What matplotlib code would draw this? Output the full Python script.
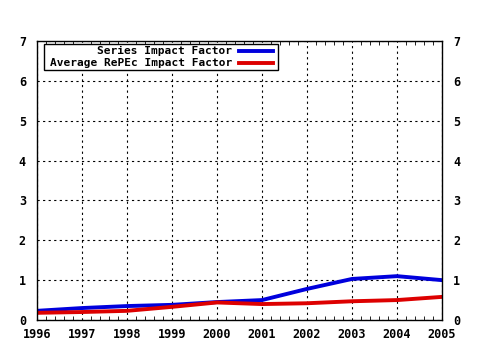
import matplotlib.pyplot as plt
from matplotlib.lines import Line2D
from matplotlib.patches import Rectangle
from matplotlib.ticker import AutoMinorLocator

years = [1996, 1997, 1998, 1999, 2000, 2001, 2002, 2003, 2004, 2005]
series_if = [0.23, 0.30, 0.35, 0.38, 0.45, 0.50, 0.78, 1.03, 1.10, 1.00]
repec_if = [0.18, 0.20, 0.23, 0.33, 0.44, 0.40, 0.42, 0.47, 0.50, 0.58]
labels = ["Series Impact Factor", "Average RePEc Impact Factor"]
colors = ["#0000dd", "#dd0000"]

plt.rcParams['font.family'] = ['DejaVu Sans Mono']
plt.rcParams['font.weight'] = 'bold'

fig = plt.figure(figsize=(4.8, 3.5), dpi=100)
ax = fig.add_axes([37 / 480, 1 - 320 / 350, 405 / 480, 279 / 350])

ax.plot(years, series_if, color=colors[0], lw=2.8)
ax.plot(years, repec_if, color=colors[1], lw=2.8)

ax.set_xlim(1996, 2005)
ax.set_ylim(0, 7)
ax.set_xticks(years)
ax.set_yticks(range(0, 8))
ax.xaxis.set_minor_locator(AutoMinorLocator(5))
ax.grid(True, which='major', color='black', linestyle=(0, (2, 3)), lw=0.8)

ax.tick_params(axis='x', which='both', direction='in', top=True, bottom=True,
               labelsize=8.5, pad=6)
ax.tick_params(axis='x', which='major', length=0)
ax.tick_params(axis='x', which='minor', length=3)
ax.tick_params(axis='y', which='both', length=0, labelsize=8.5, pad=8,
               right=True, labelright=True)
for s in ax.spines.values():
    s.set_linewidth(1.0)

# legend drawn by hand so the labels sit right-aligned, left of the lines
ax.add_patch(Rectangle((0.0173, 0.896), 0.578, 0.093, transform=ax.transAxes,
                       facecolor='white', edgecolor='black', lw=1.0, zorder=5))
rows = [0.963, 0.920]
for lab, col, y in zip(labels, colors, rows):
    ax.text(0.481, y, lab, transform=ax.transAxes, ha='right', va='center',
            fontsize=8, zorder=6)
    ax.add_line(Line2D([0.499, 0.583], [y, y], transform=ax.transAxes,
                       color=col, lw=2.8, zorder=6))

plt.savefig('out.png', dpi=100)
